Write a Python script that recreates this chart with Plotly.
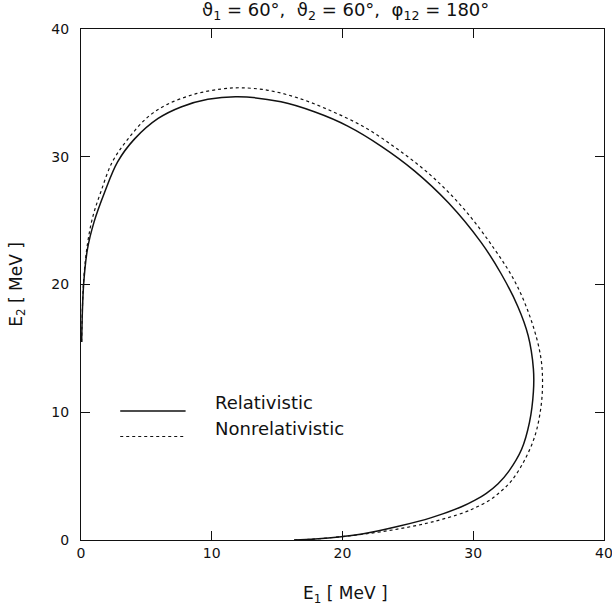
import plotly.graph_objects as go

# Kinematic loci E2 vs E1 (MeV) for theta1 = theta2 = 60 deg, phi12 = 180 deg
rel_e1 = [0.05, 0.2, 0.5, 1.0, 1.8, 2.8, 4.1, 5.9, 7.65, 9.7, 12.0, 15.3, 17.9,
          20.4, 23.0, 25.5, 28.1, 30.6, 32.1, 33.4, 34.2, 34.6, 34.6, 34.3, 33.7,
          32.7, 31.9, 31.0, 30.1, 29.1, 26.8, 24.2, 21.7, 19.9, 17.9, 16.3]
rel_e2 = [15.5, 20.0, 22.8, 24.9, 27.2, 29.6, 31.4, 33.0, 33.9, 34.5, 34.7, 34.3, 33.5,
          32.4, 30.8, 28.9, 26.4, 23.3, 20.9, 18.3, 16.0, 13.4, 11.6, 9.2, 7.1,
          5.35, 4.4, 3.65, 3.1, 2.6, 1.75, 1.05, 0.5, 0.26, 0.08, 0.0]

nonrel_e1 = [0.05, 0.2, 0.5, 0.9, 1.5, 2.4, 3.6, 5.1, 6.6, 8.7, 10.7, 12.2, 14.3,
             16.6, 19.1, 21.7, 24.2, 26.8, 29.3, 31.6, 33.2, 34.4, 35.15, 35.3, 35.15,
             34.7, 33.9, 32.9, 32.1, 31.3, 30.3, 29.3, 26.8, 24.2, 21.7, 19.9, 17.9, 16.3]
nonrel_e2 = [15.5, 20.3, 23.2, 25.3, 27.2, 29.6, 31.4, 33.1, 34.1, 34.9, 35.3, 35.4, 35.2,
             34.6, 33.6, 32.3, 30.6, 28.5, 25.9, 22.8, 20.2, 17.3, 14.4, 12.3, 10.2,
             8.1, 6.2, 4.6, 3.8, 3.15, 2.6, 2.15, 1.4, 0.85, 0.47, 0.26, 0.08, 0.0]

tick_vals = [0, 10, 20, 30, 40]
legend_labels = ["Relativistic", "Nonrelativistic"]
legend_rows = [10.1, 8.1]

FONT = "DejaVu Sans"
INK = "#111111"

fig = go.Figure()
fig.add_trace(go.Scatter(x=rel_e1, y=rel_e2, mode="lines",
                         line=dict(color=INK, width=1.5, shape="spline", smoothing=1.0),
                         showlegend=False))
fig.add_trace(go.Scatter(x=nonrel_e1, y=nonrel_e2, mode="lines",
                         line=dict(color=INK, width=1.2, dash="3px,3px", shape="spline", smoothing=1.0),
                         showlegend=False))

# Hand-built legend: sample lines plus labels inside the plot
styles = [dict(color=INK, width=1.5), dict(color=INK, width=1.2, dash="3px,3px")]
for label, yrow, st in zip(legend_labels, legend_rows, styles):
    fig.add_shape(type="line", xref="x", yref="y", x0=3.0, x1=8.0, y0=yrow, y1=yrow, line=st)
    fig.add_annotation(x=10.1, y=yrow, xref="x", yref="y", text=label, showarrow=False,
                       xanchor="left", yanchor="bottom", yshift=-4,
                       font=dict(family=FONT, size=18, color=INK))

axis_common = dict(range=[0, 40], tickvals=tick_vals, ticks="inside", ticklen=9,
                   tickcolor=INK, showline=True, linecolor=INK, linewidth=1,
                   mirror="ticks", showgrid=False, zeroline=False,
                   ticklabeloverflow="allow", automargin=False,
                   tickfont=dict(family=FONT, size=14, color=INK))

fig.update_xaxes(**axis_common)
fig.update_yaxes(**axis_common, ticklabelstandoff=8)

fig.add_annotation(text="ϑ<sub>1</sub> = 60°,  ϑ<sub>2</sub> = 60°,  φ<sub>12</sub> = 180°",
                   xref="paper", yref="paper", x=0.505, y=1.035, showarrow=False,
                   xanchor="center", yanchor="middle",
                   font=dict(family=FONT, size=18, color=INK))
fig.add_annotation(text="E<sub>1</sub> [ MeV ]", xref="paper", yref="paper",
                   x=0.505, y=-0.106, showarrow=False, xanchor="center", yanchor="middle",
                   font=dict(family=FONT, size=17, color=INK))
fig.add_annotation(text="E<sub>2</sub> [ MeV ]", xref="paper", yref="paper",
                   x=-0.122, y=0.5, showarrow=False, textangle=-90,
                   xanchor="center", yanchor="middle",
                   font=dict(family=FONT, size=17, color=INK))

fig.update_layout(width=612, height=607, margin=dict(l=81, r=8, t=29, b=67),
                  paper_bgcolor="white", plot_bgcolor="white", showlegend=False)

fig.write_html("out.html")
